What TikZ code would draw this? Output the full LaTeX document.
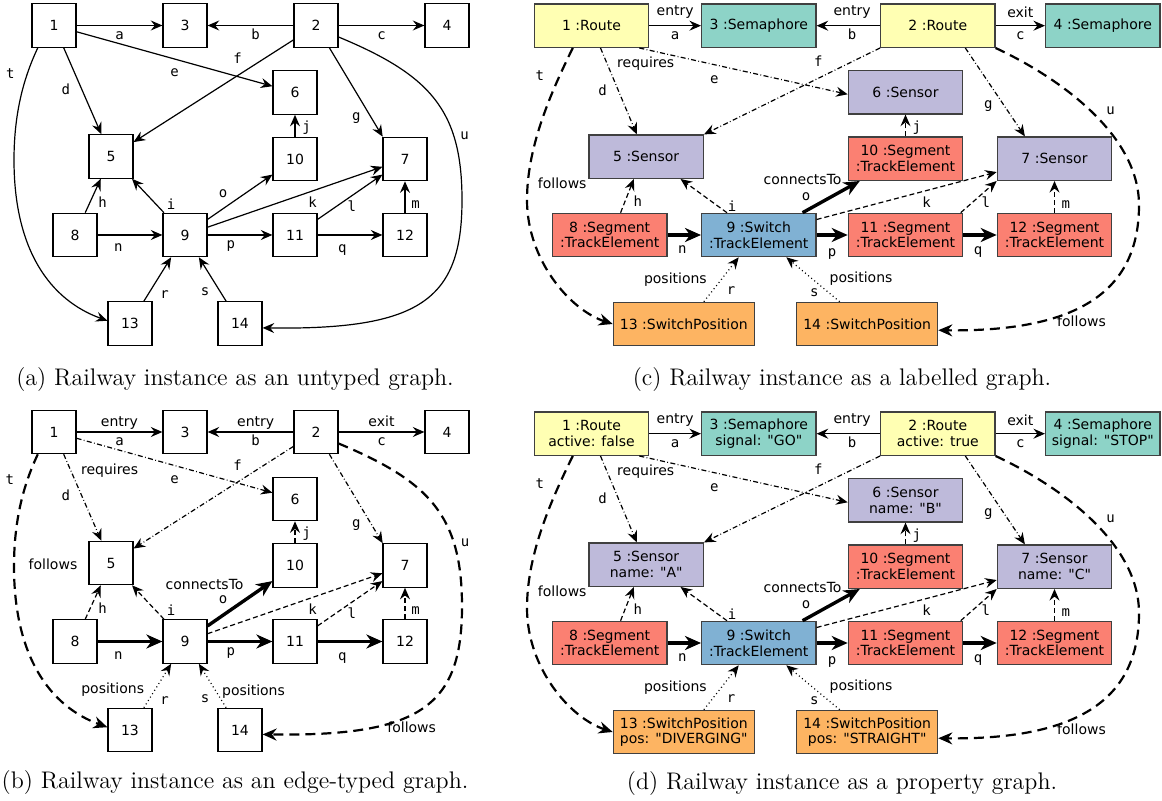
\documentclass[tikz,border=0pt]{standalone}
\usepackage{fontspec}
\usetikzlibrary{arrows.meta}
\newfontfamily\boxfont{DejaVu Sans}
\newfontfamily\letterfont{DejaVu Sans Mono}
\definecolor{routefill}{HTML}{FFFFB3}
\definecolor{semafill}{HTML}{8DD3C7}
\definecolor{sensorfill}{HTML}{BEBADA}
\definecolor{segfill}{HTML}{FB8072}
\definecolor{switchfill}{HTML}{80B1D3}
\definecolor{posfill}{HTML}{FDB462}
% edge type names are only printed in the typed panels
\newcommand\showtype[2]{node[tlbl,#1]{#2}}
\newcommand\hidetype[2]{}
% second line with the property, only in the property graph
\newcommand\withprop[1]{\\#1}
\newcommand\noprop[1]{}
\tikzset{
  sq/.style={draw, line width=.6pt, minimum width=22pt, minimum height=21.7pt, inner sep=0pt,
             font=\boxfont\fontsize{7}{7.8}\selectfont},
  obj/.style={sq, draw=black!75, minimum width=57.2pt, align=center},
  wideobj/.style={obj, minimum width=70.5pt},
  link/.style={line width=.6pt, -{Stealth[length=5.8pt,width=5pt,inset=2pt]}},
  entry/.style={},
  requires/.style={dash pattern=on 2.5pt off 1.2pt on .4pt off 1.2pt},
  senses/.style={dash pattern=on 2.5pt off 1.5pt},
  connects/.style={line width=1.7pt, -{Stealth[length=8pt,width=7pt,inset=2.5pt]}},
  positions/.style={dash pattern=on .5pt off 1.5pt},
  follows/.style={line width=1.1pt, dash pattern=on 5pt off 3pt,
                  -{Stealth[length=7pt,width=6pt,inset=2.3pt]}},
  lbl/.style={font=\letterfont\fontsize{7}{8}\selectfont, inner sep=1pt, text height=5pt, text depth=1.5pt},
  tlbl/.style={font=\boxfont\fontsize{7}{8}\selectfont, inner sep=1pt, text height=5pt, text depth=1.5pt},
  caption/.style={font=\fontsize{12}{14}\selectfont, inner sep=0pt, anchor=base},
}
\begin{document}
\begin{tikzpicture}[x=.5pt,y=-.5pt]
\useasboundingbox (0,0) rectangle (1162,801);

% left column: plain boxes, (a) untyped and (b) edge-typed
\foreach \p/\dy/\typed in {a/0/0,b/406.5/1}{
  \begin{scope}[shift={(0,\dy)}]
    \ifnum\typed=0
      % untyped: every edge looks the same
      \tikzset{requires/.style={},senses/.style={},connects/.style={},positions/.style={},follows/.style={}}
      \let\etype\hidetype
    \else
      \let\etype\showtype
    \fi
    \node[sq] (\p1) at (54,25.5) {1};
    \node[sq] (\p2) at (316,25.5) {2};
    \node[sq] (\p3) at (185,25.5) {3};
    \node[sq] (\p4) at (447,25.5) {4};
    \node[sq] (\p5) at (111,156.5) {5};
    \node[sq] (\p6) at (295,92.5) {6};
    \node[sq] (\p7) at (405,159) {7};
    \node[sq] (\p8) at (75,235) {8};
    \node[sq] (\p9) at (185,235) {9};
    \node[sq] (\p10) at (295,159) {10};
    \node[sq] (\p11) at (295,235) {11};
    \node[sq] (\p12) at (405,235) {12};
    \node[sq] (\p13) at (130,323.5) {13};
    \node[sq] (\p14) at (240,323.5) {14};

    \draw[link,entry] (\p1) -- (\p3) node[lbl,midway,below=.5pt] {a} \etype{midway,above=0pt}{entry};
    \draw[link,entry] (\p2) -- (\p3) node[lbl,pos=.44,below=.5pt] {b} \etype{pos=.44,above=0pt}{entry};
    \draw[link,entry] (\p2) -- (\p4) node[lbl,midway,below=.5pt] {c} \etype{midway,above=0pt}{exit};
    \draw[link,requires] (\p1) -- (\p5) node[lbl,midway,left=4.9pt] {d} \etype{pos=.19,right=3.8pt}{requires};
    \draw[link,requires] (\p1) -- (\p6) node[lbl,midway,below=2.7pt] {e};
    \draw[link,requires] (\p2) -- (\p5) node[lbl,pos=.35,above=3.2pt] {f};
    \draw[link,requires] (\p2.-59) -- (\p7.135) node[lbl,pos=.78,left=3.9pt] {g};
    \draw[link,senses] (\p8) -- (\p5) node[lbl,pos=.27,right=3.2pt] {h};
    \draw[link,senses] (\p9) -- (\p5) node[lbl,pos=.2,right=3.4pt] {i};
    \draw[link,senses] (\p10) -- (\p6) node[lbl,pos=.4,right=2.4pt] {j};
    \draw[link,senses] (\p9) -- (\p7) node[lbl,pos=.6,below=2.2pt] {k};
    \draw[link,senses] (\p11) -- (\p7) node[lbl,pos=.53,below=1.7pt] {l};
    \draw[link,senses] (\p12) -- (\p7) node[lbl,pos=.26,right=1.9pt] {m};
    \draw[link,connects] (\p8) -- (\p9) node[lbl,pos=.32,below=2.2pt] {n};
    \draw[link,connects] (\p9) -- (\p10) node[lbl,pos=.24,above=2.7pt] {o}
      \etype{pos=0,above=14.9pt,xshift=-1.5pt}{connectsTo};
    \draw[link,connects] (\p9) -- (\p11) node[lbl,pos=.36,below=.3pt] {p};
    \draw[link,connects] (\p11) -- (\p12) node[lbl,pos=.38,below=2.7pt] {q};
    \draw[link,positions] (\p13) -- (\p9) node[lbl,pos=.15,right=4.9pt] {r} \etype{pos=.41,left=4.2pt}{positions};
    \draw[link,positions] (\p14) -- (\p9) node[lbl,pos=.2,left=4.4pt] {s} \etype{pos=.36,right=1.6pt}{positions};
    \draw[link,follows] (\p1.234.6) .. controls (25,75) and (14,110) .. (14,160)
      node[lbl,pos=.3,left=4.9pt] {t} \etype{pos=1,right=5.8pt}{follows}
      .. controls (14,250) and (50,300) .. (\p13.173.5);
    \draw[link,follows] (\p2.-27.6) .. controls (430,75) and (462,110) .. (462,200)
      node[lbl,pos=.72,right=2pt] {u}
      .. controls (462,300) and (420,330) .. (\p14.-11.6) \etype{pos=.55,below=2.5pt}{follows};
  \end{scope}
}

% right column: coloured objects, (c) labelled and (d) property graph
\foreach \p/\dy/\props in {c/0/0,d/408/1}{
  \begin{scope}[shift={(0,\dy)}]
    \ifnum\props=1 \let\propline\withprop \else \let\propline\noprop \fi
    \node[obj,fill=routefill] (\p1) at (591.5,25.7) {1 :Route\propline{active: false}};
    \node[obj,fill=routefill] (\p2) at (937.8,25.7) {2 :Route\propline{active: true}};
    \node[obj,fill=semafill] (\p3) at (758.8,25.7) {3 :Semaphore\propline{signal: "GO"}};
    \node[obj,fill=semafill] (\p4) at (1102.8,25.7) {4 :Semaphore\propline{signal: "STOP"}};
    \node[obj,fill=sensorfill] (\p5) at (646.2,156.7) {5 :Sensor\propline{name: "A"}};
    \node[obj,fill=sensorfill] (\p6) at (905.5,92.3) {6 :Sensor\propline{name: "B"}};
    \node[obj,fill=sensorfill] (\p7) at (1054.5,158.7) {7 :Sensor\propline{name: "C"}};
    \node[obj,fill=segfill] (\p8) at (609.7,235) {8 :Segment\\:TrackElement};
    \node[obj,fill=switchfill] (\p9) at (758.8,235) {9 :Switch\\:TrackElement};
    \node[obj,fill=segfill] (\p10) at (905.5,158.7) {10 :Segment\\:TrackElement};
    \node[obj,fill=segfill] (\p11) at (905.5,235) {11 :Segment\\:TrackElement};
    \node[obj,fill=segfill] (\p12) at (1054.5,235) {12 :Segment\\:TrackElement};
    \node[wideobj,fill=posfill] (\p13) at (683.8,324) {13 :SwitchPosition\propline{pos: "DIVERGING"}};
    \node[wideobj,fill=posfill] (\p14) at (867.2,324) {14 :SwitchPosition\propline{pos: "STRAIGHT"}};

    \draw[link,entry] (\p1) -- (\p3) node[lbl,midway,below=.4pt] {a} node[tlbl,midway,above=2.1pt] {entry};
    \draw[link,entry] (\p2) -- (\p3) node[lbl,pos=.44,below=.4pt] {b} node[tlbl,pos=.44,above=2.1pt] {entry};
    \draw[link,entry] (\p2) -- (\p4) node[lbl,midway,below=.4pt] {c} node[tlbl,midway,above=1.5pt] {exit};
    \draw[link,requires] (\p1.-68.9) -- (\p5.113) node[lbl,pos=.51,left=4.8pt] {d}
      node[tlbl,pos=.19,right=3.6pt] {requires};
    \draw[link,requires] (\p1.-25.2) -- (\p6.182) node[lbl,pos=.36,below=3.1pt] {e};
    \draw[link,requires] (\p2.south west) -- (\p5.north east) node[lbl,pos=.35,above=3.2pt] {f};
    \draw[link,requires] (\p2.-39) -- (\p7.143.3) node[lbl,pos=.65,left=4.4pt] {g};
    \draw[link,senses] (\p8.64.6) -- (\p5.241.3) node[lbl,pos=.28,right=3.4pt] {h};
    \draw[link,senses] (\p9.145.2) -- (\p5.-33.2) node[lbl,pos=.15,right=2.6pt] {i};
    \draw[link,senses] (\p10) -- (\p6) node[lbl,pos=.4,right=2.2pt] {j};
    \draw[link,senses] (\p9.15.3) -- (\p7.193.2) node[lbl,pos=.61,below=2.4pt] {k};
    \draw[link,senses] (\p11.22.7) -- (\p7.south west) node[lbl,pos=.7,below=2.1pt] {l};
    \draw[link,senses] (\p12) -- (\p7) node[lbl,pos=.25,right=2.2pt] {m};
    \draw[link,connects] (\p8) -- (\p9) node[lbl,pos=.44,below=2.2pt] {n};
    \draw[link,connects] (\p9.27.2) -- (\p10.206.9) node[lbl,pos=.06,above=1.8pt] {o}
      node[tlbl,pos=0,above=10.7pt] {connectsTo};
    \draw[link,connects] (\p9) -- (\p11) node[lbl,midway,below=3.7pt] {p};
    \draw[link,connects] (\p11) -- (\p12) node[lbl,pos=.44,below=2.7pt] {q};
    \draw[link,positions] (\p13.48) -- (\p9.228) node[lbl,pos=.23,right=6.2pt] {r}
      node[tlbl,pos=.49,left=5.8pt] {positions};
    \draw[link,positions] (\p14.141) -- (\p9.-39.8) node[lbl,pos=.2,left=3.9pt] {s}
      node[tlbl,pos=.51,right=7.3pt] {positions};
    \draw[link,follows] (\p1.-130.5) .. controls (547.7,98.7) and (527,150) .. (527,200)
      node[lbl,pos=.19,left=6pt] {t} node[tlbl,pos=.9,right=3.6pt] {follows}
      .. controls (527,260) and (570,310) .. (\p13.west);
    \draw[link,follows] (\p2.south east) .. controls (1060,78) and (1139,135) .. (1139,205)
      node[lbl,pos=.5,right=5.9pt] {u}
      .. controls (1139,290) and (1080,332) .. (\p14.-5) node[tlbl,pos=.55,below=3.6pt] {follows};
  \end{scope}
}

\node[caption] (capa) at (235,385.5) {(a) Railway instance as an untyped graph.};
\node[caption] (capb) at (235,788.7) {(b) Railway instance as an edge-typed graph.};
\node[caption] (capc) at (842,385.5) {(c) Railway instance as a labelled graph.};
\node[caption] (capd) at (842,789) {(d) Railway instance as a property graph.};
\end{tikzpicture}
\end{document}
